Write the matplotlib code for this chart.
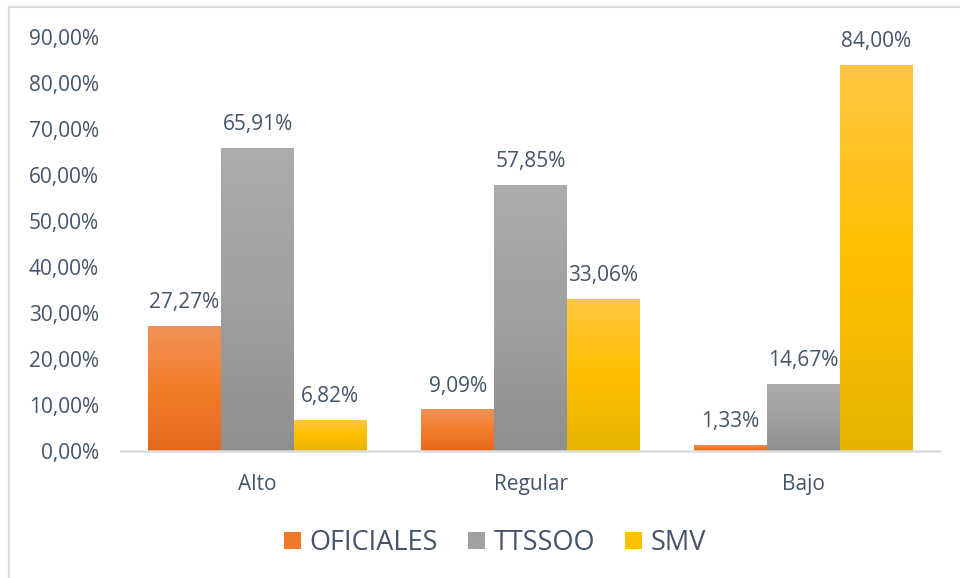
import matplotlib
matplotlib.use("Agg")
import matplotlib.pyplot as plt
import numpy as np
from matplotlib.colors import LinearSegmentedColormap
from matplotlib.patches import Rectangle

categories = ["Alto", "Regular", "Bajo"]
series = ["OFICIALES", "TTSSOO", "SMV"]
oficiales = [27.27, 9.09, 1.33]
ttssoo = [65.91, 57.85, 14.67]
smv = [6.82, 33.06, 84.00]
yticks = [0, 10, 20, 30, 40, 50, 60, 70, 80, 90]

values = [oficiales, ttssoo, smv]
grads = [
    ["#E5691C", "#F37D2B", "#F19259"],
    ["#8F8F8F", "#A0A0A0", "#ACACAC"],
    ["#E6B400", "#FFC000", "#FFC642"],
]
mids = ["#F07A2A", "#A0A0A0", "#FFC000"]
text_color = "#44546A"
font = "Open Sans"

plt.rcParams["font.family"] = [font, "DejaVu Sans"]

fig = plt.figure(figsize=(9.6, 5.78), dpi=100)
W, H = 960, 578
ax = fig.add_axes([121 / W, 1 - 451 / H, (940 - 121) / W, (451 - 37) / H])

x = np.arange(len(categories))
width = 0.267
offsets = [-width, 0, width]
grad = np.linspace(0, 1, 256).reshape(-1, 1)

for i, (vals, g) in enumerate(zip(values, grads)):
    cmap = LinearSegmentedColormap.from_list("g%d" % i, g)
    bars = ax.bar(x + offsets[i], vals, width, color=mids[i], label=series[i],
                  linewidth=0, zorder=2)
    for b, v in zip(bars, vals):
        bx, bw = b.get_x(), b.get_width()
        im = ax.imshow(grad, cmap=cmap, aspect="auto", origin="lower",
                       extent=[bx, bx + bw, 0, v], zorder=3)
        im.set_clip_path(b)
        ax.annotate(f"{v:.2f}%".replace(".", ","), (bx + bw / 2, v),
                    xytext=(0, 9), textcoords="offset points",
                    ha="center", va="bottom", fontsize=15, color=text_color)

ax.set_xlim(-0.5, 2.5)
ax.set_ylim(0, 90)
ax.set_yticks(yticks)
ax.set_yticklabels([f"{t:.2f}%".replace(".", ",") for t in yticks])
ax.set_xticks(x)
ax.set_xticklabels(categories)
ax.tick_params(axis="both", length=0, labelsize=15, labelcolor=text_color)
ax.tick_params(axis="y", pad=16)
ax.tick_params(axis="x", pad=16.5)
for s in ["left", "right", "top"]:
    ax.spines[s].set_visible(False)
ax.spines["bottom"].set_color("#D9DCE1")
ax.spines["bottom"].set_linewidth(1.8)
ax.spines["bottom"].set_zorder(5)

leg = fig.legend(loc="center", bbox_to_anchor=(495 / W, 1 - 543 / H), ncol=3,
                 frameon=False, fontsize=19.5, handlelength=0.63, handleheight=0.63,
                 handletextpad=0.33, columnspacing=1.1, labelcolor=text_color)

fig.patches.append(Rectangle((9 / W, -0.1), 1.2, 1 - 7 / H + 0.1,
                             transform=fig.transFigure, fill=False,
                             edgecolor="#DADDE2", linewidth=1.6))

fig.savefig("out.png", dpi=100)
